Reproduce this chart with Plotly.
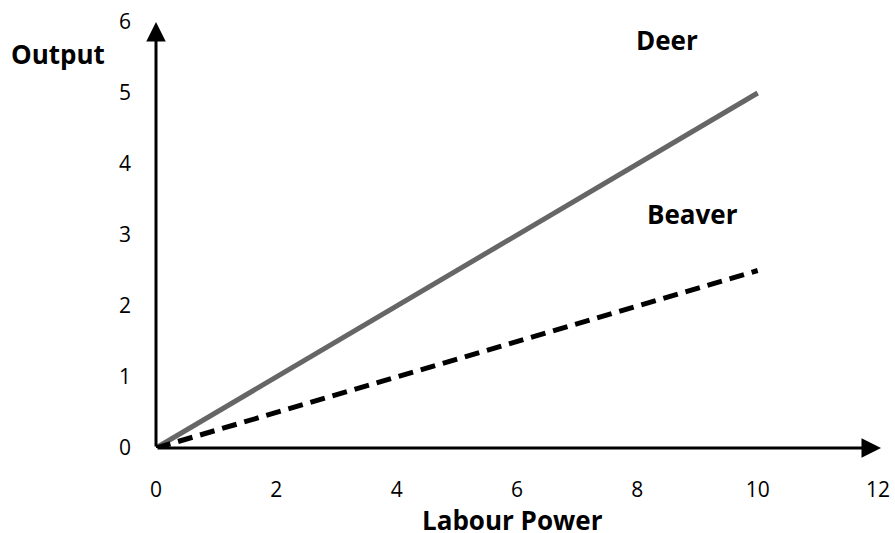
import plotly.graph_objects as go

labour = [0, 10]
deer = [0, 5]
beaver = [0, 2.5]
x_ticks = [0, 2, 4, 6, 8, 10, 12]
y_ticks = [0, 1, 2, 3, 4, 5, 6]

FONT = "Open Sans"

fig = go.Figure()
fig.add_trace(go.Scatter(x=labour, y=deer, mode="lines", name="Deer",
                         line=dict(color="#666666", width=5)))
fig.add_trace(go.Scatter(x=labour, y=beaver, mode="lines", name="Beaver",
                         line=dict(color="black", width=5, dash="15px,8px")))

# axis arrows
fig.add_annotation(x=12.05, y=0, ax=0, ay=0, xref="x", yref="y", axref="x", ayref="y",
                   showarrow=True, arrowhead=2, arrowsize=1.3, arrowwidth=3, arrowcolor="black", text="")
fig.add_annotation(x=0, y=6.0, ax=0, ay=0, xref="x", yref="y", axref="x", ayref="y",
                   showarrow=True, arrowhead=2, arrowsize=1.3, arrowwidth=3, arrowcolor="black", text="")

fig.add_annotation(x=8.49, y=5.74, text="<b>Deer</b>", showarrow=False,
                   xanchor="center", yanchor="middle",
                   font=dict(family=FONT, size=26, color="black"))
fig.add_annotation(x=8.92, y=3.29, text="<b>Beaver</b>", showarrow=False,
                   xanchor="center", yanchor="middle",
                   font=dict(family=FONT, size=26, color="black"))
fig.add_annotation(x=-0.136, y=0.925, xref="paper", yref="paper", text="<b>Output</b>",
                   showarrow=False, xanchor="center", yanchor="middle",
                   font=dict(family=FONT, size=26, color="black"))
fig.add_annotation(x=5.93, y=-0.169, xref="x", yref="paper", text="<b>Labour Power</b>",
                   showarrow=False, xanchor="center", yanchor="middle",
                   font=dict(family=FONT, size=26, color="black"))

fig.update_layout(
    width=895, height=533,
    margin=dict(l=156, r=17, t=22, b=85, autoexpand=False),
    plot_bgcolor="white", paper_bgcolor="white",
    showlegend=False,
    font=dict(family=FONT, size=21, color="black"),
    xaxis=dict(range=[0, 12], tickvals=x_ticks, showgrid=False, zeroline=False,
               showline=False, ticks="", ticklabelstandoff=27, automargin=False,
               ticklabeloverflow="allow"),
    yaxis=dict(range=[0, 6], tickvals=y_ticks, showgrid=False, zeroline=False,
               showline=False, ticks="", ticklabelstandoff=24, automargin=False,
               ticklabeloverflow="allow"),
)

fig.write_html("out.html", config={"displayModeBar": False},
               post_script="document.body.style.margin='0';document.body.style.overflow='hidden';")
